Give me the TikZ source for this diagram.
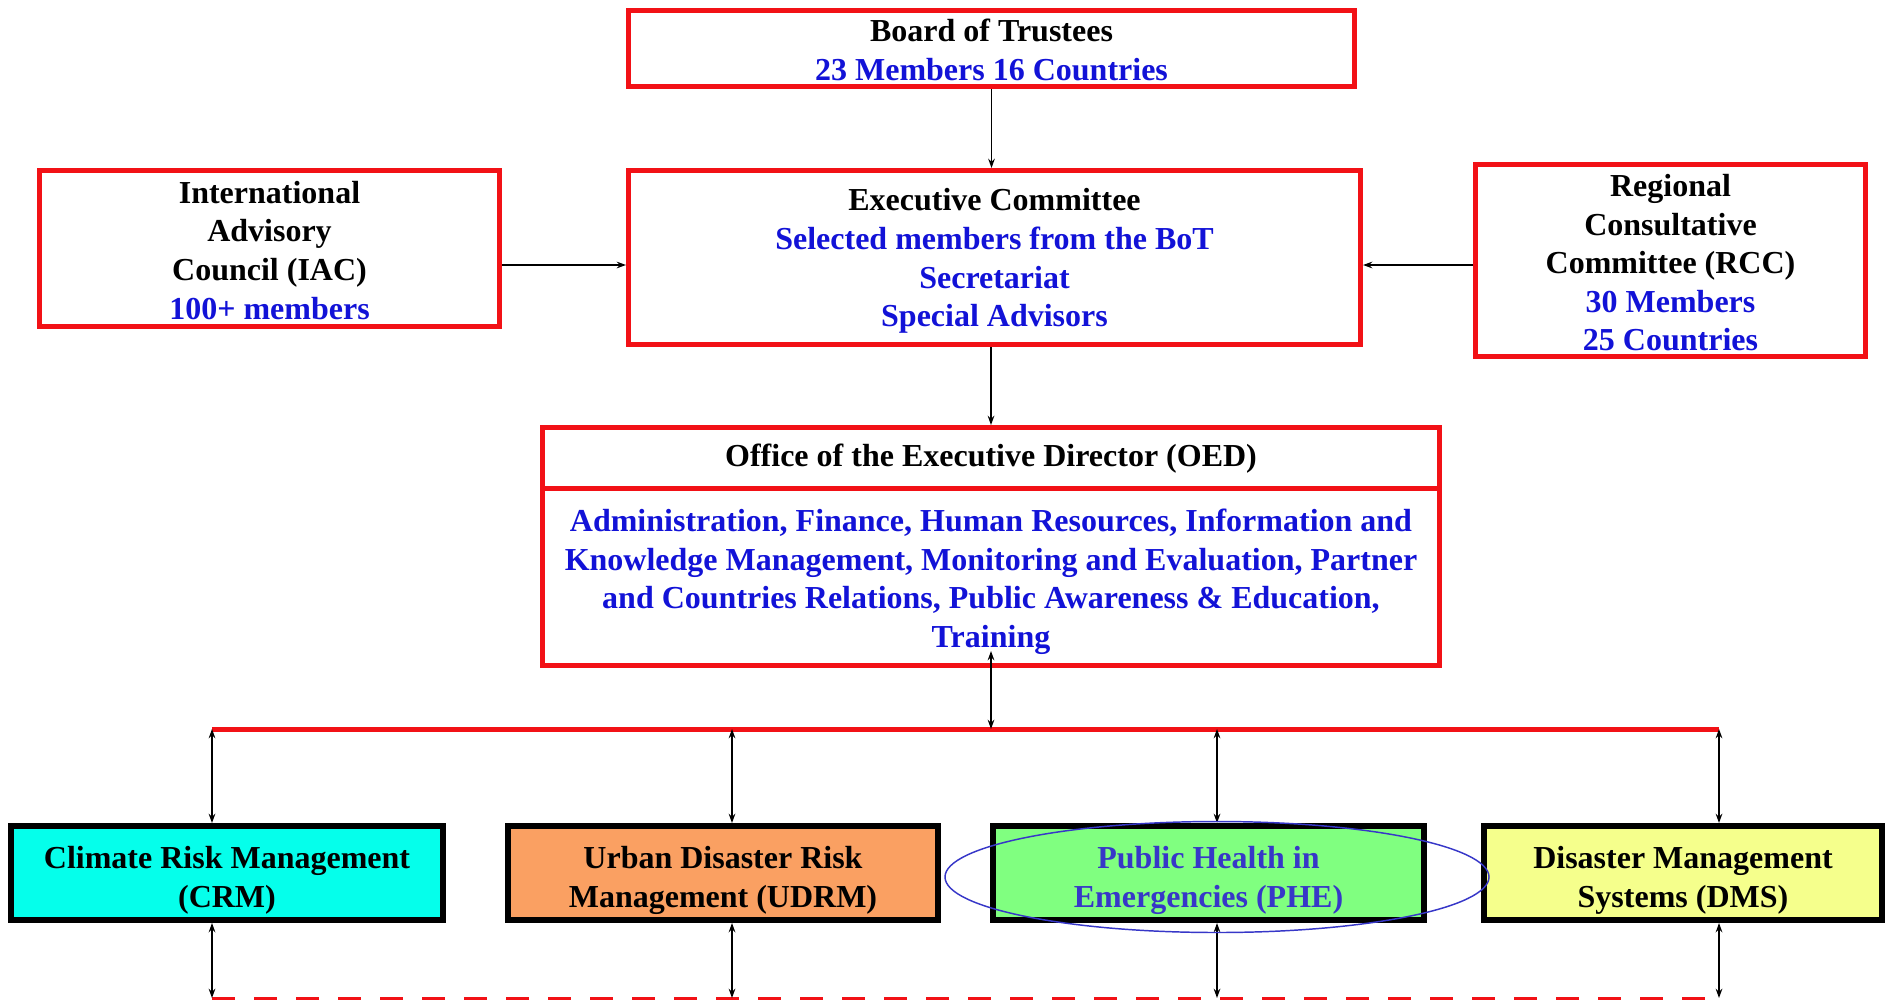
\documentclass[tikz,border=0pt]{standalone}
\usepackage{fontspec}
\setmainfont{Liberation Serif}
\usetikzlibrary{arrows.meta}

\definecolor{boxred}{RGB}{242,17,22}
\definecolor{txtblue}{RGB}{18,18,215}
\definecolor{phetxt}{RGB}{55,55,200}
\definecolor{ringblue}{RGB}{55,55,200}
\definecolor{crmfill}{RGB}{5,255,235}
\definecolor{udrmfill}{RGB}{250,160,98}
\definecolor{phefill}{RGB}{128,255,128}
\definecolor{dmsfill}{RGB}{245,255,140}

% extra room above the first line of a box
\newcommand{\topgap}[1][20pt]{\rule{0pt}{#1}}

\tikzset{every picture/.style={line width=0.75pt}}
\tikzset{
  boxtext/.style={align=center, inner sep=0.75pt, font=\fontsize{24}{28.9}\selectfont\bfseries},
  redbox/.style={boxtext, draw=boxred, line width=3.75pt},
  unitbox/.style={boxtext, draw=black, line width=4.5pt, minimum height=70.5pt},
  link/.style={line width=1.1pt, -{Stealth[length=7pt,width=5pt]}},
  twolink/.style={line width=1.1pt, {Stealth[length=7pt,width=5pt]}-{Stealth[length=7pt,width=5pt]}},
}

\begin{document}
\begin{tikzpicture}[x=0.75pt,y=0.75pt,yscale=-1,xscale=1]
\useasboundingbox (0,0) rectangle (1887,1000);

% Governing bodies
\node [redbox, minimum width=544.5pt, minimum height=57pt] (board) at (991.5,48.5) {\topgap[19.3pt]Board of Trustees\\\textcolor{txtblue}{23 Members 16 Countries}};
\node [redbox, minimum width=549pt, minimum height=130.5pt] (exec) at (994.5,257.5) {\topgap[22pt]Executive Committee\\\textcolor{txtblue}{Selected members from the BoT}\\\textcolor{txtblue}{Secretariat}\\\textcolor{txtblue}{Special Advisors}};
\node [redbox, minimum width=345pt, minimum height=117pt] (iac) at (269.5,248.5) {\topgap[19.3pt]International\\Advisory\\Council (IAC)\\\textcolor{txtblue}{100+ members}};
\node [redbox, minimum width=292.5pt, minimum height=144pt] (rcc) at (1670.5,260.5) {\topgap[20.2pt]Regional\\Consultative\\Committee (RCC)\\\textcolor{txtblue}{30 Members}\\\textcolor{txtblue}{25 Countries}};

% Office of the Executive Director
\node [redbox, minimum width=672.75pt, minimum height=46.1pt] (oedhead) at (991,458.25) {Office of the Executive Director (OED)};
\node [redbox, minimum width=672.75pt, minimum height=132.4pt] (oedbody) at (991,577.25) {\topgap[23.8pt]\textcolor{txtblue}{Administration, Finance, Human Resources, Information and}\\\textcolor{txtblue}{Knowledge Management, Monitoring and Evaluation, Partner}\\\textcolor{txtblue}{and Countries Relations, Public Awareness \& Education,}\\\textcolor{txtblue}{Training}};

% Programme units
\node [unitbox, fill=crmfill, minimum width=324pt] (crm) at (227,873) {\topgap[27.4pt]Climate Risk Management\\(CRM)};
\node [unitbox, fill=udrmfill, minimum width=322.5pt] (udrm) at (723,873) {\topgap[27.4pt]Urban Disaster Risk\\Management (UDRM)};
\node [unitbox, fill=phefill, text=phetxt, minimum width=323.25pt] (phe) at (1208.5,873) {\topgap[27.4pt]Public Health in\\Emergencies (PHE)};
\node [unitbox, fill=dmsfill, minimum width=298.5pt] (dms) at (1683,873) {\topgap[27.4pt]Disaster Management\\Systems (DMS)};

% bus lines
\coordinate (busL) at (212,729);
\coordinate (busR) at (1719,729);
\coordinate (busO) at (991,729);
\coordinate (busB) at (732,729);
\coordinate (busC) at (1217,729);
\coordinate (dashL) at (212,998);
\coordinate (dashR) at (1705,998);
\draw [boxred, line width=3.75pt] (busL) -- (busR);
\draw [boxred, line width=2.25pt, dash pattern=on 17.5pt off 14pt] (dashL) -- (dashR);

% connectors
\draw [link] (board.south) -- (board.south |- exec.north);
\draw [link] (exec.south -| oedhead.north) -- (oedhead.north);
\coordinate (sideY) at (0,265);
\draw [link] (iac.east |- sideY) -- (exec.west |- sideY);
\draw [link] (rcc.west |- sideY) -- (exec.east |- sideY);
\coordinate (oedTip) at (991,651);
\draw [twolink] (busO) -- (oedTip);

\draw [twolink] (busL) -- (busL |- crm.north);
\draw [twolink] (busB) -- (busB |- udrm.north);
\draw [twolink] (busC) -- (busC |- phe.north);
\draw [twolink] (busR) -- (busR |- dms.north);
\draw [twolink] (crm.south -| dashL) -- (dashL);
\draw [twolink] (udrm.south -| busB) -- (busB |- dashL);
\draw [twolink] (phe.south -| busC) -- (busC |- dashL);
\draw [twolink] (dms.south -| busR) -- (busR |- dashL);

%Shape: Ellipse round PHE
\draw [ringblue, line width=1.1pt] (1217,877) ellipse (272 and 55.5);

\end{tikzpicture}
\end{document}
